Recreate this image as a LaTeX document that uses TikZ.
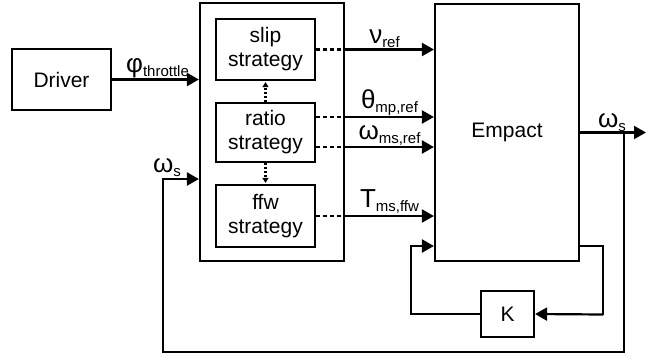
\documentclass[tikz,border=0pt]{standalone}
\usepackage{fontspec}
\setmainfont{Liberation Sans}
\usetikzlibrary{arrows.meta,positioning}

\newcommand{\sublabel}[2]{{\fontsize{26}{26}\selectfont #1}\raisebox{-4pt}{\fontsize{15}{15}\selectfont #2}}

\tikzset{
  blk/.style={draw, line width=2.2pt, inner sep=0pt, align=center,
    font=\fontsize{21}{24}\selectfont},
  arr/.style={line width=2.2pt, -{Triangle[length=12pt,width=13pt]}},
  dashln/.style={line width=2.2pt, dash pattern=on 4pt off 3pt},
  dotarr/.style={line width=2.2pt, dash pattern=on 2pt off 2pt,
    -{Triangle[length=5pt,width=6pt]}, shorten >=1pt},
  lbl/.style={above, inner sep=1pt}
}

\begin{document}
\begin{tikzpicture}[x=1pt, y=-1pt]
\useasboundingbox (0,0) rectangle (647,356);

% blocks
\node[blk, minimum width=99pt, minimum height=61pt] (driver) at (61.5,79.5) {Driver};
\node[blk, minimum width=144pt, minimum height=258pt] (strat) at (272,132) {};
\node[blk, minimum width=99pt, minimum height=61pt] (slip) at (265.5,49.5) {slip\\strategy};
\node[blk, minimum width=99pt, minimum height=59pt] (ratio) at (265.5,132.5) {ratio\\strategy};
\node[blk, minimum width=99pt, minimum height=62pt] (ffw) at (265.5,216) {ffw\\strategy};
\node[blk, minimum width=144pt, minimum height=257pt] (empact) at (507,132.5) {Empact};
\node[blk, minimum width=53pt, minimum height=46pt] (gain) at (507.5,314) {K};

% helper points
\coordinate (thOut) at ([yshift=15.5pt]ratio.east);
\coordinate (wmOut) at ([yshift=-14.5pt]ratio.east);
\coordinate (wsIn) at ([yshift=-47pt]strat.west);
\coordinate (kOut) at ([yshift=-113.5pt]empact.east);
\coordinate (kIn) at ([yshift=-113.5pt]empact.west);
\coordinate (branch) at (624,132.5);
\coordinate (wsOut) at (646,132.5);
\coordinate (fb) at (163,352);

% driver input
\draw[arr] (driver) -- (driver -| strat.west)
  node[lbl, midway, xshift=2pt] {\sublabel{φ}{throttle}};

% strategy links
\draw[dotarr] (ratio.north) -- (slip.south);
\draw[dotarr] (ratio.south) -- (ffw.north);

% references to Empact
\draw[dashln] (slip.east) -- (slip -| strat.east);
\draw[arr] (slip -| strat.east) -- (slip -| empact.west)
  node[lbl, midway, xshift=-5pt] {\sublabel{ν}{ref}};
\draw[dashln] (thOut) -- (thOut -| strat.east);
\draw[arr] (thOut -| strat.east) -- (thOut -| empact.west)
  node[lbl, midway, inner sep=0pt] {\sublabel{θ}{mp,ref}};
\draw[dashln] (wmOut) -- (wmOut -| strat.east);
\draw[arr] (wmOut -| strat.east) -- (wmOut -| empact.west)
  node[lbl, midway, inner sep=0pt] {\sublabel{ω}{ms,ref}};
\draw[dashln] (ffw.east) -- (ffw -| strat.east);
\draw[arr] (ffw -| strat.east) -- (ffw -| empact.west)
  node[lbl, midway] {\sublabel{T}{ms,ffw}};

% output and feedback
\draw[arr] (empact.east) -- (wsOut);
\node[lbl] (wsLbl) at (612,132.5) {\sublabel{ω}{s}};
\draw[line width=2.2pt] (kOut) -| ++(23,68.5);
\draw[arr] ([shift={(23,68.5)}]kOut) -- (gain.east);
\draw[arr] (gain.west) -| ([xshift=-23pt]kIn) -- (kIn);
\draw[arr] (branch) |- (fb) |- (wsIn)
  node[lbl, pos=0.75, xshift=-14pt] {\sublabel{ω}{s}};

\end{tikzpicture}
\end{document}
